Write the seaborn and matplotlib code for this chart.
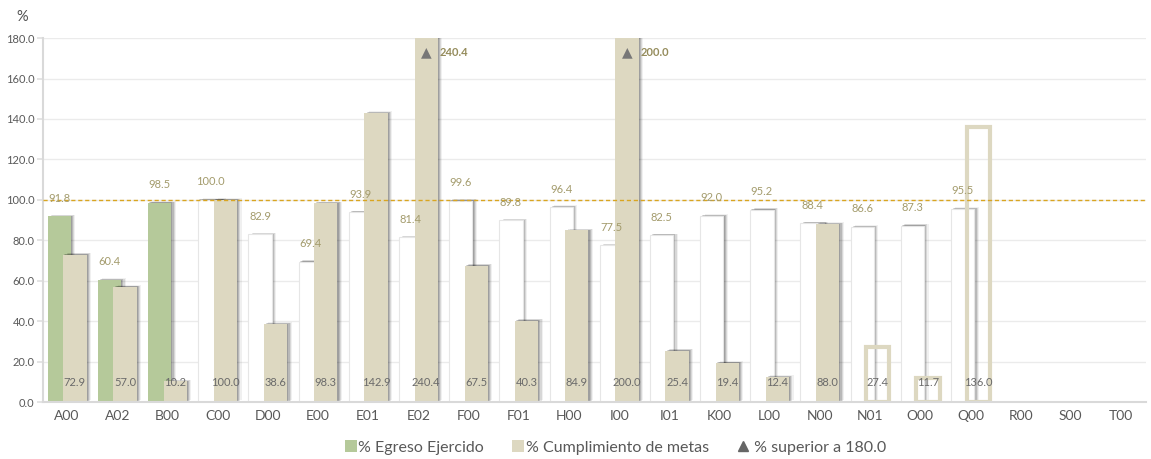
import numpy as np
import pandas as pd
import matplotlib
matplotlib.use("Agg")
import matplotlib.pyplot as plt
import matplotlib.patheffects as pe
from matplotlib.patches import Patch
from matplotlib.lines import Line2D
import seaborn as sns

# ---------------- data ----------------
categories = ["A00", "A02", "B00", "C00", "D00", "E00", "E01", "E02", "F00", "F01",
              "H00", "I00", "I01", "K00", "L00", "N00", "N01", "O00", "Q00",
              "R00", "S00", "T00"]
egreso = [91.8, 60.4, 98.5, 100.0, 82.9, 69.4, 93.9, 81.4, 99.6, 89.8,
          96.4, 77.5, 82.5, 92.0, 95.2, 88.4, 86.6, 87.3, 95.5,
          np.nan, np.nan, np.nan]
cumplimiento = [72.9, 57.0, 10.2, 100.0, 38.6, 98.3, 142.9, 240.4, 67.5, 40.3,
                84.9, 200.0, 25.4, 19.4, 12.4, 88.0, 27.4, 11.7, 136.0,
                np.nan, np.nan, np.nan]
series_names = ["% Egreso Ejercido", "% Cumplimiento de metas"]
marker_label = "% superior a 180.0"
green_cats = ["A00", "A02", "B00"]
outlined_cats = ["N01", "O00", "Q00"]
threshold = 180.0
reference_value = 100.0
yticks = [0, 20, 40, 60, 80, 100, 120, 140, 160, 180]

# ---------------- style ----------------
GREEN = "#b5c99a"
BEIGE = "#ddd8c1"
OLIVE = "#a39b6c"
GOLD = "#d9a521"
TXT = "#595959"

sns.set_theme(style="white")
plt.rcParams["font.family"] = ["Lato", "DejaVu Sans"]

df = pd.DataFrame({
    "cat": categories * 2,
    "serie": [series_names[0]] * len(categories) + [series_names[1]] * len(categories),
    "valor": egreso + cumplimiento,
})

fig, ax = plt.subplots(figsize=(11.51, 4.59), dpi=100)
fig.subplots_adjust(left=0.0374, right=0.9957, bottom=0.124, top=0.917)

sns.barplot(data=df, x="cat", y="valor", hue="serie", order=categories,
            hue_order=series_names, palette=[GREEN, BEIGE], width=0.62,
            gap=-0.5, dodge=True, legend=False, errorbar=None,
            saturation=1, ax=ax)

shadow = [pe.SimplePatchShadow(offset=(0.8, 0.3), shadow_rgbFace="#000000", alpha=0.14),
          pe.SimplePatchShadow(offset=(1.6, 0.6), shadow_rgbFace="#000000", alpha=0.14),
          pe.SimplePatchShadow(offset=(2.4, 0.9), shadow_rgbFace="#000000", alpha=0.10),
          pe.SimplePatchShadow(offset=(3.2, 1.2), shadow_rgbFace="#000000", alpha=0.06),
          pe.Normal()]

for level, cont in enumerate(ax.containers):
    for bar in cont:
        h = bar.get_height()
        if np.isnan(h):
            continue
        cx = bar.get_x() + bar.get_width() / 2
        cat = categories[int(round(cx))]
        if level == 0:
            if cat in green_cats:
                bar.set_facecolor(GREEN)
                bar.set_edgecolor("none")
            else:
                bar.set_facecolor("white")
                bar.set_edgecolor("#e6e6e6")
                bar.set_linewidth(0.8)
            bar.set_path_effects(shadow)
            ax.annotate(f"{h:.1f}", (cx, h), xytext=(0, 13), textcoords="offset points",
                        ha="center", va="center", color=OLIVE, fontsize=8, zorder=6)
        else:
            if cat in outlined_cats:
                bar.set_facecolor("none")
                bar.set_edgecolor(BEIGE)
                bar.set_linewidth(3)
            else:
                bar.set_facecolor(BEIGE)
                bar.set_edgecolor("none")
                bar.set_path_effects(shadow)
            ax.annotate(f"{h:.1f}", (cx, 0), xytext=(0, 14), textcoords="offset points",
                        ha="center", va="center", color="#6a6a6a", fontsize=8, zorder=6)
            if h > threshold:
                ax.annotate("▲", (cx, 1), xycoords=("data", "axes fraction"),
                            xytext=(0, -10), textcoords="offset points",
                            ha="center", va="center", color="#777777", fontsize=10,
                            family=["DejaVu Sans"], zorder=6)
                ax.annotate(f"{h:.1f}", (cx, 1), xycoords=("data", "axes fraction"),
                            xytext=(10, -10.5), textcoords="offset points",
                            ha="left", va="center", color="#958c5c", fontsize=8,
                            fontweight="bold", zorder=6)

ax.axhline(reference_value, color=GOLD, lw=1, ls=(0, (3, 2)), zorder=5)

ax.set_ylim(0, threshold)
ax.set_xlim(-0.48, len(categories) - 0.5)
ax.set_yticks(yticks)
ax.set_yticklabels([f"{v:.1f}" for v in yticks])
ax.set_xlabel("")
ax.set_ylabel("")
ax.set_axisbelow(True)
ax.yaxis.grid(True, color="#ebebeb", lw=1)
ax.xaxis.grid(False)
for s in ["top", "right"]:
    ax.spines[s].set_visible(False)
ax.spines["left"].set_color("#d9d9d9")
ax.spines["left"].set_linewidth(1.5)
ax.spines["bottom"].set_color("#d9d9d9")
ax.spines["bottom"].set_linewidth(1.5)
ax.tick_params(axis="y", labelsize=8, labelcolor=TXT, length=4, color="#e0e0e0", pad=2, left=True)
ax.tick_params(axis="x", labelsize=10, labelcolor=TXT, length=0, pad=6)

fig.text(0.019, 0.962, "%", fontsize=10.5, color="#505050", ha="center", va="center")

handles = [Patch(facecolor=GREEN, edgecolor="none"),
           Patch(facecolor=BEIGE, edgecolor="none"),
           Line2D([], [], marker="^", color="#666666", ls="none", markersize=7.5)]
leg = fig.legend(handles, [series_names[0], series_names[1], " " + marker_label],
                 loc="lower center", bbox_to_anchor=(0.535, -0.022), ncol=3,
                 frameon=False, fontsize=11.5, handlelength=0.75, handleheight=0.75,
                 handletextpad=0.1, columnspacing=1.75)
for t in leg.get_texts():
    t.set_color(TXT)

fig.savefig("out.png", dpi=100)
